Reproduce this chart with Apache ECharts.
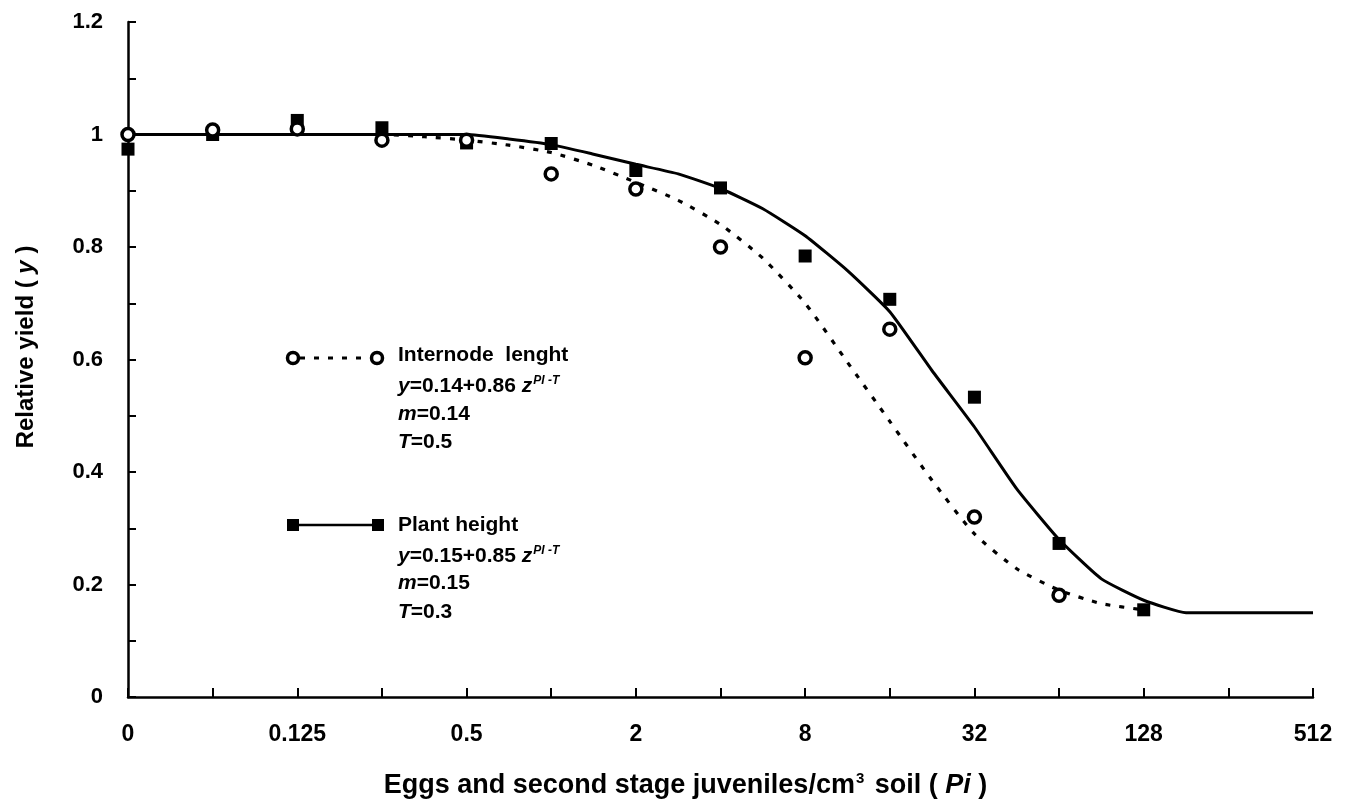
<!DOCTYPE html>
<html>
<head>
<meta charset="utf-8">
<title>Relative yield</title>
<script src="https://cdn.jsdelivr.net/npm/echarts@6/dist/echarts.min.js"></script>
<style>
    html, body { margin: 0; padding: 0; background: #ffffff; }
    #main { width: 1349px; height: 805px; }
</style>
</head>
<body>
<div id="main"></div>
<script>
// x positions are log2 steps: 0, 0.0625, 0.125 ... 512
var xTickLabels = ['0', '', '0.125', '', '0.5', '', '2', '', '8', '', '32', '', '128', '', '512'];

// observed points (index along the x scale)
var internodePos = [0, 1, 2, 3, 4, 5, 6, 7, 8, 9, 10, 11];
var internodeObs = [1.0, 1.008, 1.01, 0.99, 0.99, 0.93, 0.903, 0.80, 0.603, 0.654, 0.32, 0.181];
var plantPos = [0, 1, 2, 3, 4, 5, 6, 7, 8, 9, 10, 11, 12];
var plantObs = [0.974, 1.0, 1.025, 1.012, 0.985, 0.984, 0.936, 0.905, 0.784, 0.707, 0.533, 0.273, 0.155];

// fitted curves
var internodeFitPos = [0, 1, 2, 3, 3.5, 4, 4.5, 5, 5.5, 6, 6.5, 7, 7.5, 8, 8.5, 9, 9.5, 10, 10.5, 11, 11.5, 12];
var internodeFit = [1, 1, 1, 1, 0.996, 0.99, 0.981, 0.968, 0.945, 0.915, 0.883, 0.84, 0.78, 0.70, 0.595, 0.49, 0.385, 0.29, 0.228, 0.19, 0.166, 0.155];
var plantFitPos = [0, 1, 2, 3, 4, 4.5, 5, 5.5, 6, 6.5, 7, 7.5, 8, 8.5, 9, 9.5, 10, 10.5, 11, 11.5, 12, 12.5, 13, 14];
var plantFit = [1, 1, 1, 1, 1, 0.992, 0.982, 0.965, 0.947, 0.93, 0.904, 0.868, 0.82, 0.758, 0.685, 0.58, 0.48, 0.37, 0.28, 0.21, 0.172, 0.15, 0.15, 0.15];

function zip(xs, ys) {
    var out = [];
    for (var i = 0; i < xs.length; i++) {
        out.push([xs[i], ys[i]]);
    }
    return out;
}

var FONT = '"Liberation Sans", Arial, sans-serif';

function legendRich() {
    return {
        n: { fontFamily: FONT, fontSize: 21, fontWeight: 'bold', color: '#000' },
        i: { fontFamily: FONT, fontSize: 21, fontWeight: 'bold', fontStyle: 'italic', color: '#000' },
        sup: { fontFamily: FONT, fontSize: 12, fontWeight: 'bold', fontStyle: 'italic', color: '#000', verticalAlign: 'top', padding: [0, 0, 10, 1] }
    };
}

function legendLine(x, y, str) {
    return {
        type: 'text',
        left: x,
        top: y - 13,
        style: { text: str, rich: legendRich(), fontFamily: FONT, fontSize: 21, fontWeight: 'bold', fill: '#000' },
        z: 10
    };
}

var chart = echarts.init(document.getElementById('main'));

var option = {
    animation: false,
    backgroundColor: '#ffffff',
    grid: { left: 128, right: 36, top: 22, bottom: 108 },
    xAxis: {
        type: 'value',
        min: 0,
        max: 14,
        interval: 1,
        name: '{a|Eggs and second stage juveniles/cm}{s|3}{a| soil ( }{b|Pi}{a| )}',
        nameLocation: 'middle',
        nameGap: 74,
        nameTextStyle: {
            padding: [0, 70, 0, 0],
            rich: {
                a: { fontFamily: FONT, fontSize: 27, fontWeight: 'bold', color: '#000' },
                b: { fontFamily: FONT, fontSize: 27, fontWeight: 'bold', fontStyle: 'italic', color: '#000' },
                s: { fontFamily: FONT, fontSize: 15, fontWeight: 'bold', color: '#000', verticalAlign: 'top', padding: [0, 3, 14, 1] }
            }
        },
        axisLine: { lineStyle: { color: '#000', width: 2.5 } },
        axisTick: { inside: true, length: 9, lineStyle: { color: '#000', width: 2 } },
        axisLabel: {
            margin: 26,
            fontFamily: FONT,
            fontSize: 23,
            fontWeight: 'bold',
            color: '#000',
            formatter: function (v) {
                return xTickLabels[Math.round(v)] || '';
            }
        },
        splitLine: { show: false }
    },
    yAxis: {
        type: 'value',
        min: 0,
        max: 1.2,
        interval: 0.1,
        name: '{a|Relative yield ( }{b|y}{a| )}',
        nameLocation: 'middle',
        nameRotate: 90,
        nameGap: 90,
        nameTextStyle: {
            padding: [0, 0, 0, 25],
            rich: {
                a: { fontFamily: FONT, fontSize: 24, fontWeight: 'bold', color: '#000' },
                b: { fontFamily: FONT, fontSize: 24, fontWeight: 'bold', fontStyle: 'italic', color: '#000' }
            }
        },
        axisLine: { show: true, lineStyle: { color: '#000', width: 2.5 } },
        axisTick: { show: true, inside: true, length: 8, lineStyle: { color: '#000', width: 2 } },
        axisLabel: {
            margin: 25,
            fontFamily: FONT,
            fontSize: 22,
            fontWeight: 'bold',
            color: '#000',
            formatter: function (v) {
                var t = Math.round(v * 10);
                if (t % 2 !== 0) return '';
                return String(t / 10);
            }
        },
        splitLine: { show: false }
    },
    series: [
        {
            name: 'Internode lenght fit',
            type: 'line',
            data: zip(internodeFitPos, internodeFit),
            showSymbol: false,
            smooth: 0.2,
            lineStyle: { color: '#000', width: 3.2, type: [5, 9] },
            z: 2
        },
        {
            name: 'Plant height fit',
            type: 'line',
            data: zip(plantFitPos, plantFit),
            showSymbol: false,
            smooth: 0.15,
            lineStyle: { color: '#000', width: 3 },
            z: 3
        },
        {
            name: 'Plant height',
            type: 'scatter',
            data: zip(plantPos, plantObs),
            symbol: 'rect',
            symbolSize: 13,
            itemStyle: { color: '#000', opacity: 1 },
            z: 4
        },
        {
            name: 'Internode lenght',
            type: 'scatter',
            data: zip(internodePos, internodeObs),
            symbol: 'circle',
            symbolSize: 12,
            itemStyle: { color: '#fff', borderColor: '#000', borderWidth: 3.5, opacity: 1 },
            z: 5
        }
    ],
    graphic: [
        // legend: internode length
        { type: 'line', shape: { x1: 300, y1: 358, x2: 371, y2: 358 }, style: { stroke: '#000', lineWidth: 3, lineDash: [5, 9] }, z: 10 },
        { type: 'circle', shape: { cx: 293, cy: 358, r: 5.5 }, style: { fill: '#fff', stroke: '#000', lineWidth: 3.5 }, z: 11 },
        { type: 'circle', shape: { cx: 377, cy: 358, r: 5.5 }, style: { fill: '#fff', stroke: '#000', lineWidth: 3.5 }, z: 11 },
        legendLine(398, 358, '{n|Internode  lenght}'),
        legendLine(398, 388, '{i|y}{n|=0.14+0.86 }{i|z}{sup|PI -T}'),
        legendLine(398, 417, '{i|m}{n|=0.14}'),
        legendLine(398, 445, '{i|T}{n|=0.5}'),
        // legend: plant height
        { type: 'line', shape: { x1: 293, y1: 525, x2: 378, y2: 525 }, style: { stroke: '#000', lineWidth: 2.5 }, z: 10 },
        { type: 'rect', shape: { x: 287, y: 519, width: 12, height: 12 }, style: { fill: '#000' }, z: 11 },
        { type: 'rect', shape: { x: 372, y: 519, width: 12, height: 12 }, style: { fill: '#000' }, z: 11 },
        legendLine(398, 528, '{n|Plant height}'),
        legendLine(398, 558, '{i|y}{n|=0.15+0.85 }{i|z}{sup|PI -T}'),
        legendLine(398, 586, '{i|m}{n|=0.15}'),
        legendLine(398, 615, '{i|T}{n|=0.3}')
    ]
};

chart.setOption(option);
window.addEventListener('resize', function () {
    chart.resize();
});
</script>
</body>
</html>
